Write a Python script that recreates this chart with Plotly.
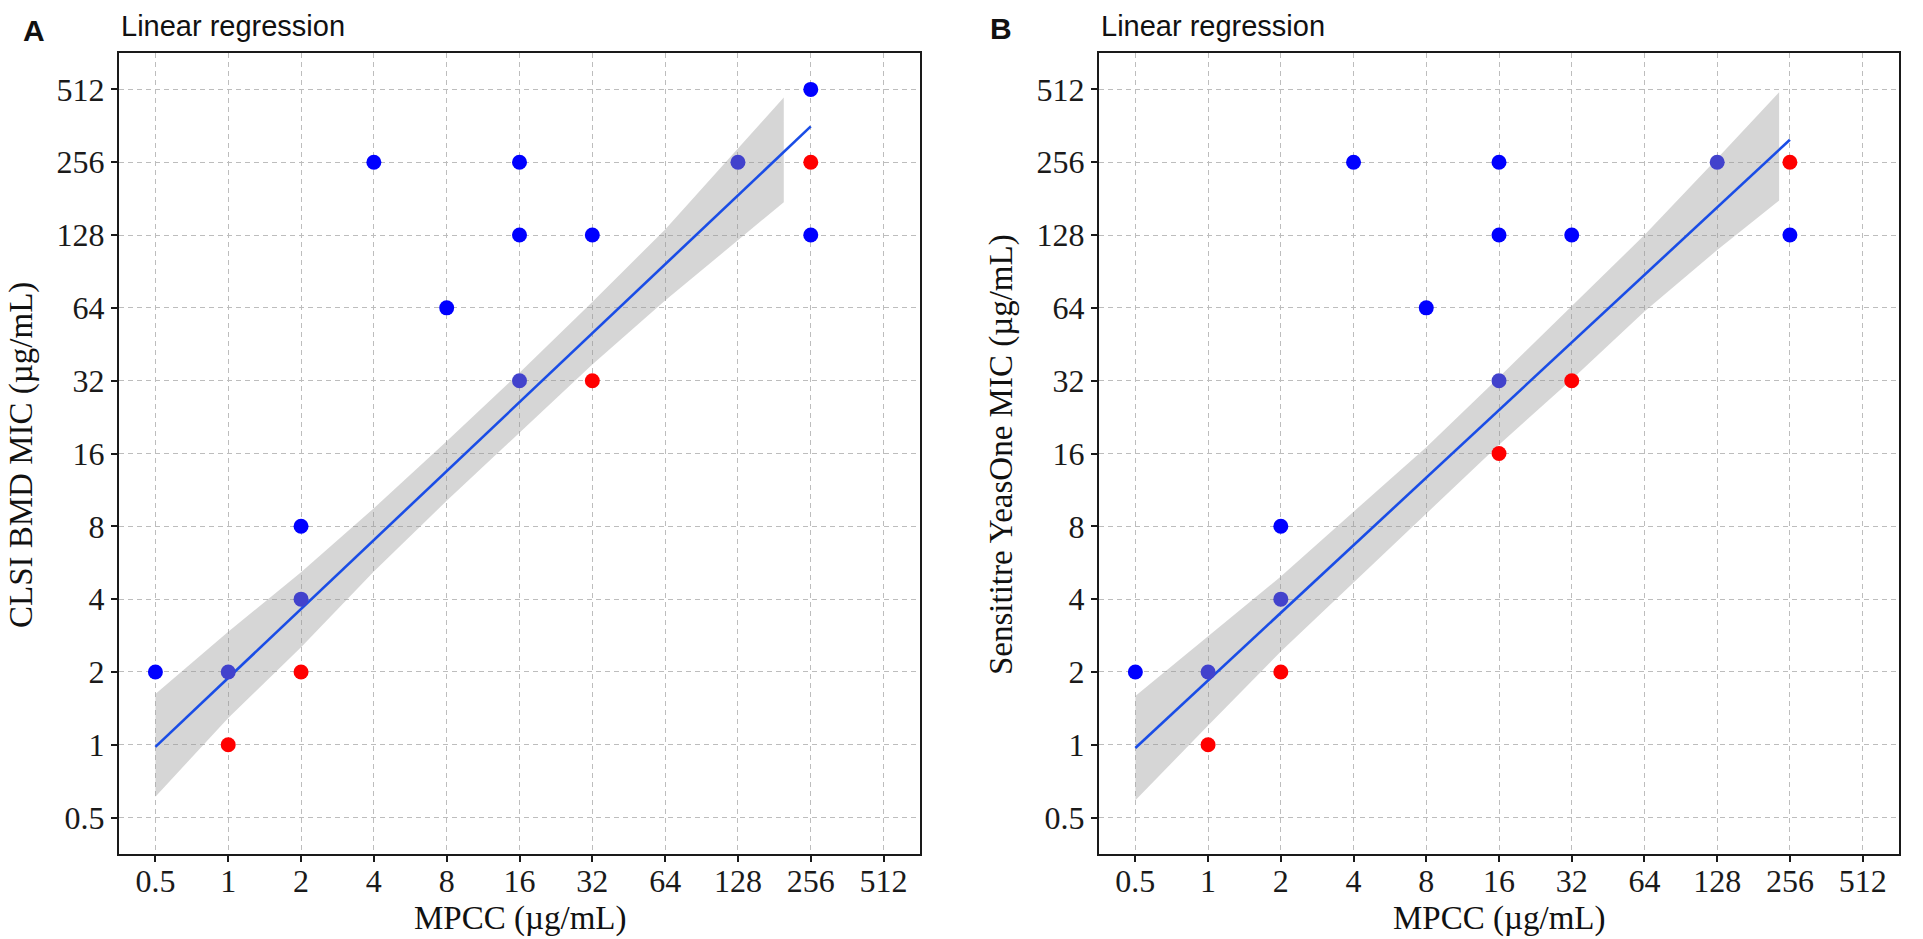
import plotly.graph_objects as go

# tick values shared by both axes of both panels
ticks = [0.5, 1, 2, 4, 8, 16, 32, 64, 128, 256, 512]
tick_labels = ['0.5', '1', '2', '4', '8', '16', '32', '64', '128', '256', '512']

# panel A : MPCC vs CLSI BMD MIC
a_blue_x = [0.5, 2, 4, 8, 16, 16, 32, 256, 256]
a_blue_y = [2, 8, 256, 64, 256, 128, 128, 512, 128]
a_purple_x = [1, 2, 16, 128]
a_purple_y = [2, 4, 32, 256]
a_red_x = [1, 2, 32, 256]
a_red_y = [1, 2, 32, 256]
a_fit_x = [0.5, 256]
a_fit_y = [0.98, 360]
a_band_x = [0.5, 1, 2, 4, 8, 16, 32, 64, 128, 198]
a_band_hi = [1.62, 2.93, 5.17, 9.5, 18.0, 34.5, 67.6, 135, 292, 474]
a_band_lo = [0.61, 1.29, 2.53, 5.2, 10.2, 19.6, 37.3, 68.6, 122, 175]

# panel B : MPCC vs Sensititre YeasOne MIC
b_blue_x = [0.5, 2, 4, 8, 16, 16, 32, 256]
b_blue_y = [2, 8, 256, 64, 256, 128, 128, 128]
b_purple_x = [1, 2, 16, 128]
b_purple_y = [2, 4, 32, 256]
b_red_x = [1, 2, 16, 32, 256]
b_red_y = [1, 2, 16, 32, 256]
b_fit_x = [0.5, 256]
b_fit_y = [0.97, 317]
b_band_x = [0.5, 1, 2, 4, 8, 16, 32, 64, 128, 231]
b_band_hi = [1.59, 2.81, 4.96, 9.19, 17.0, 33.1, 64.9, 128, 265, 498]
b_band_lo = [0.59, 1.2, 2.43, 4.69, 9.0, 17.4, 32.4, 61.8, 111, 178]

BLUE = '#0000ff'
PURPLE = '#4242cc'
RED = '#ff0000'
LINE = '#1a4de6'

fig = go.Figure()


def add_panel(n, band_x, band_hi, band_lo, fit_x, fit_y, groups):
    xa = 'x' if n == 1 else 'x%d' % n
    ya = 'y' if n == 1 else 'y%d' % n
    fig.add_trace(go.Scatter(x=band_x + band_x[::-1], y=band_hi + band_lo[::-1],
                             fill='toself', fillcolor='rgba(153,153,153,0.4)',
                             line=dict(width=0), mode='lines', hoverinfo='skip',
                             showlegend=False, xaxis=xa, yaxis=ya))
    fig.add_trace(go.Scatter(x=fit_x, y=fit_y, mode='lines',
                             line=dict(color=LINE, width=2.6),
                             showlegend=False, xaxis=xa, yaxis=ya))
    for gx, gy, col in groups:
        fig.add_trace(go.Scatter(x=gx, y=gy, mode='markers',
                                 marker=dict(color=col, size=15, line=dict(width=0)),
                                 showlegend=False, xaxis=xa, yaxis=ya))


add_panel(1, a_band_x, a_band_hi, a_band_lo, a_fit_x, a_fit_y,
          [(a_blue_x, a_blue_y, BLUE), (a_red_x, a_red_y, RED), (a_purple_x, a_purple_y, PURPLE)])
add_panel(2, b_band_x, b_band_hi, b_band_lo, b_fit_x, b_fit_y,
          [(b_blue_x, b_blue_y, BLUE), (b_red_x, b_red_y, RED), (b_purple_x, b_purple_y, PURPLE)])

# plot areas measured on the reference: A 119-920, B 1099-1899, y 53-854
W, H = 1923, 939
L, T = 119, 53
R = W - 1899
B = H - 854
pw = W - L - R
ph = H - T - B


def px(x):
    return (x - L) / pw


def py(y):
    return (H - B - y) / ph


rng = [-1.5 * 0.30103, 9.5 * 0.30103]
serif = 'Liberation Serif, Times New Roman, serif'
sans = 'Liberation Sans, Arial, sans-serif'
axis_style = dict(type='log', range=rng, tickmode='array', tickvals=ticks, ticktext=tick_labels,
                  showgrid=True, gridcolor='#bdbdbd', gridwidth=1.3, griddash='5px,4px',
                  showline=True, linecolor='#1a1a1a', linewidth=2, mirror=True,
                  ticks='outside', ticklen=6, tickwidth=2, tickcolor='#1a1a1a',
                  tickfont=dict(family=serif, size=32, color='#1a1a1a'),
                  zeroline=False)

fig.update_layout(
    width=W, height=H,
    margin=dict(l=L, r=R, t=T, b=B),
    paper_bgcolor='white', plot_bgcolor='white',
    xaxis=dict(domain=[0, px(920)], anchor='y', ticklabelstandoff=-8, **axis_style),
    yaxis=dict(domain=[0, 1], anchor='x', **axis_style),
    xaxis2=dict(domain=[px(1099), 1], anchor='y2', ticklabelstandoff=-8, **axis_style),
    yaxis2=dict(domain=[0, 1], anchor='x2', **axis_style),
)

notes = [
    dict(text='<b>A</b>', x=px(34), y=py(31), font=dict(family=sans, size=30)),
    dict(text='<b>B</b>', x=px(1001), y=py(29), font=dict(family=sans, size=30)),
    dict(text='Linear regression', x=px(119), y=py(26), xanchor='left', font=dict(family=sans, size=29)),
    dict(text='Linear regression', x=px(1099), y=py(26), xanchor='left', font=dict(family=sans, size=29)),
    dict(text='MPCC (µg/mL)', x=px(520), y=py(918), font=dict(family=serif, size=33)),
    dict(text='MPCC (µg/mL)', x=px(1499), y=py(918), font=dict(family=serif, size=33)),
    dict(text='CLSI BMD MIC (µg/mL)', x=px(21), y=py(455), textangle=-90, font=dict(family=serif, size=33)),
    dict(text='Sensititre YeasOne MIC (µg/mL)', x=px(1001), y=py(455), textangle=-90,
         font=dict(family=serif, size=33)),
]
for a in notes:
    a.setdefault('xanchor', 'center')
    a['font']['color'] = '#111111'
    fig.add_annotation(xref='paper', yref='paper', yanchor='middle', showarrow=False, **a)

# drop the browser's default 8px body margin so the figure fills the window
fig.write_html("out.html", config={'displayModeBar': False},
               post_script="document.body.style.margin='0px';")
